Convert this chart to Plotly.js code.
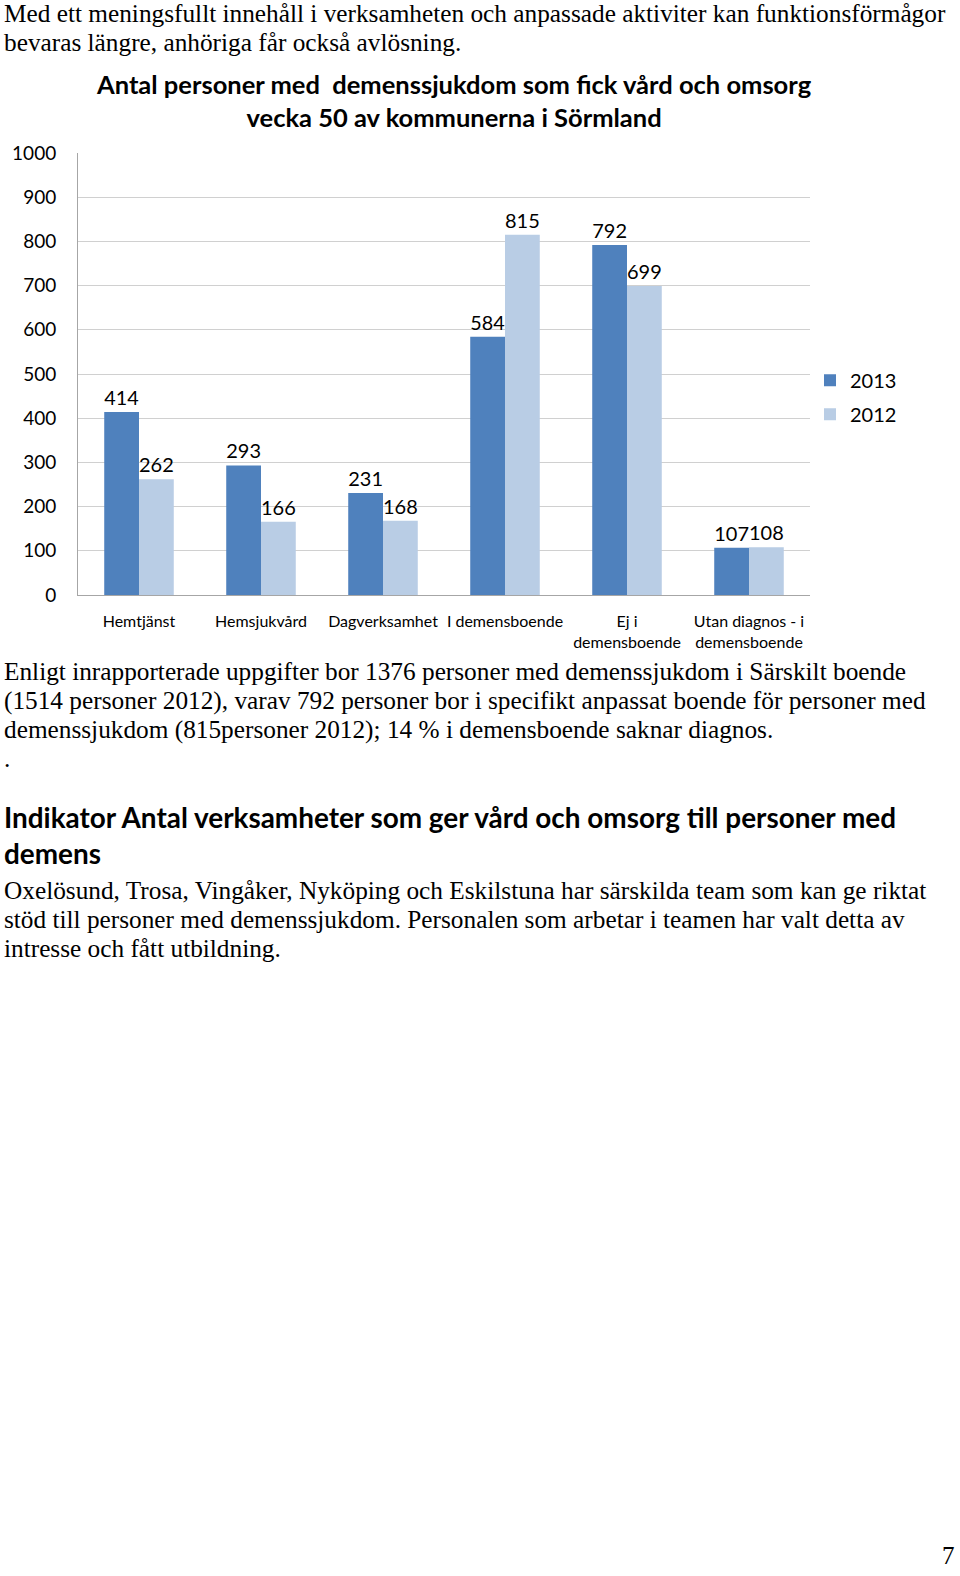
<!DOCTYPE html>
<html>
<head>
<meta charset="utf-8">
<script src="https://cdn.plot.ly/plotly-3.0.1.min.js"></script>
<style>
  html, body { margin: 0; padding: 0; background: #fff; width: 960px; height: 1576px; overflow: hidden; }
  .serif { position: absolute; left: 4px; font-family: "Liberation Serif", "Times New Roman", serif; font-size: 25.3px; line-height: 29px; color: #000; white-space: nowrap; }
  .head { position: absolute; left: 4px; font-family: Lato, "Noto Sans", sans-serif; font-weight: bold; font-size: 27.9px; line-height: 36px; color: #000; white-space: nowrap; }
  #chart { position: absolute; left: 0; top: 60px; width: 960px; height: 600px; }
  #pnum { position: absolute; left: 942px; top: 1541px; font-family: "Liberation Serif", serif; font-size: 25px; line-height: 29px; }
</style>
</head>
<body>
<div class="serif" style="top:-1px">Med ett meningsfullt innehåll i verksamheten och anpassade aktiviter kan funktionsförmågor<br>bevaras längre, anhöriga får också avlösning.</div>
<div id="chart"></div>
<div class="serif" style="top:657px">Enligt inrapporterade uppgifter bor 1376 personer med demenssjukdom i Särskilt boende<br>(1514 personer 2012), varav 792 personer bor i specifikt anpassat boende för personer med<br>demenssjukdom (815personer 2012); 14 % i demensboende saknar diagnos.<br>.</div>
<div class="head" style="top:799px">Indikator Antal verksamheter som ger vård och omsorg till personer med<br>demens</div>
<div class="serif" style="top:876px">Oxelösund, Trosa, Vingåker, Nyköping och Eskilstuna har särskilda team som kan ge riktat<br>stöd till personer med demenssjukdom. Personalen som arbetar i teamen har valt detta av<br>intresse och fått utbildning.</div>
<div id="pnum">7</div>
<script>
const categories = ["Hemtjänst", "Hemsjukvård", "Dagverksamhet", "I demensboende", "Ej i<br>demensboende", "Utan diagnos - i<br>demensboende"];
const values2013 = [414, 293, 231, 584, 792, 107];
const values2012 = [262, 166, 168, 815, 699, 108];
const seriesNames = ["2013", "2012"];
const chartTitle = "Antal personer med  demenssjukdom som fick vård och omsorg<br>vecka 50 av kommunerna i Sörmland";

const font = "Lato, 'Noto Sans', sans-serif";
const traces = [
  { type: "bar", name: seriesNames[0], x: categories, y: values2013, marker: { color: "#4f81bd" },
    text: values2013.map(String), textposition: "outside", cliponaxis: false,
    textfont: { size: 20, color: "#000", family: font }, legendgroup: "a", hoverinfo: "none" },
  { type: "bar", name: seriesNames[1], x: categories, y: values2012, marker: { color: "#b9cde5" },
    text: values2012.map(String), textposition: "outside", cliponaxis: false,
    textfont: { size: 20, color: "#000", family: font }, legendgroup: "b", hoverinfo: "none" }
];
const layout = {
  width: 960, height: 600,
  margin: { l: 78, r: 150, t: 93, b: 65 },
  paper_bgcolor: "rgba(0,0,0,0)", plot_bgcolor: "rgba(0,0,0,0)",
  font: { family: font, color: "#000" },
  annotations: [{
    text: "<b>" + chartTitle.replace("<br>", "</b><br><b>") + "</b>",
    xref: "paper", yref: "paper", x: (454 - 78) / 732, y: (535 - 40.5) / 442,
    xanchor: "center", yanchor: "middle", showarrow: false,
    font: { size: 25.5, family: font, color: "#000" }
  }],
  barmode: "group", bargap: 0.43, bargroupgap: 0,
  xaxis: { showline: true, linecolor: "#a6a6a6", linewidth: 1, ticks: "", tickfont: { size: 16, family: font },
           ticklabelstandoff: 12, fixedrange: true },
  yaxis: { range: [0, 1000], dtick: 100, showgrid: true, gridcolor: "#d0d0d0", gridwidth: 1,
           showline: true, linecolor: "#a6a6a6", ticks: "", tickfont: { size: 19, family: font },
           ticklabelstandoff: 17, zeroline: false, fixedrange: true },
  legend: { x: 1.0, xanchor: "left", y: 0.53, yanchor: "top", font: { size: 20, family: font },
            traceorder: "grouped", tracegroupgap: 5, bgcolor: "rgba(0,0,0,0)" },
  showlegend: true
};
Plotly.newPlot("chart", traces, layout, { displayModeBar: false, staticPlot: true });
</script>
</body>
</html>
